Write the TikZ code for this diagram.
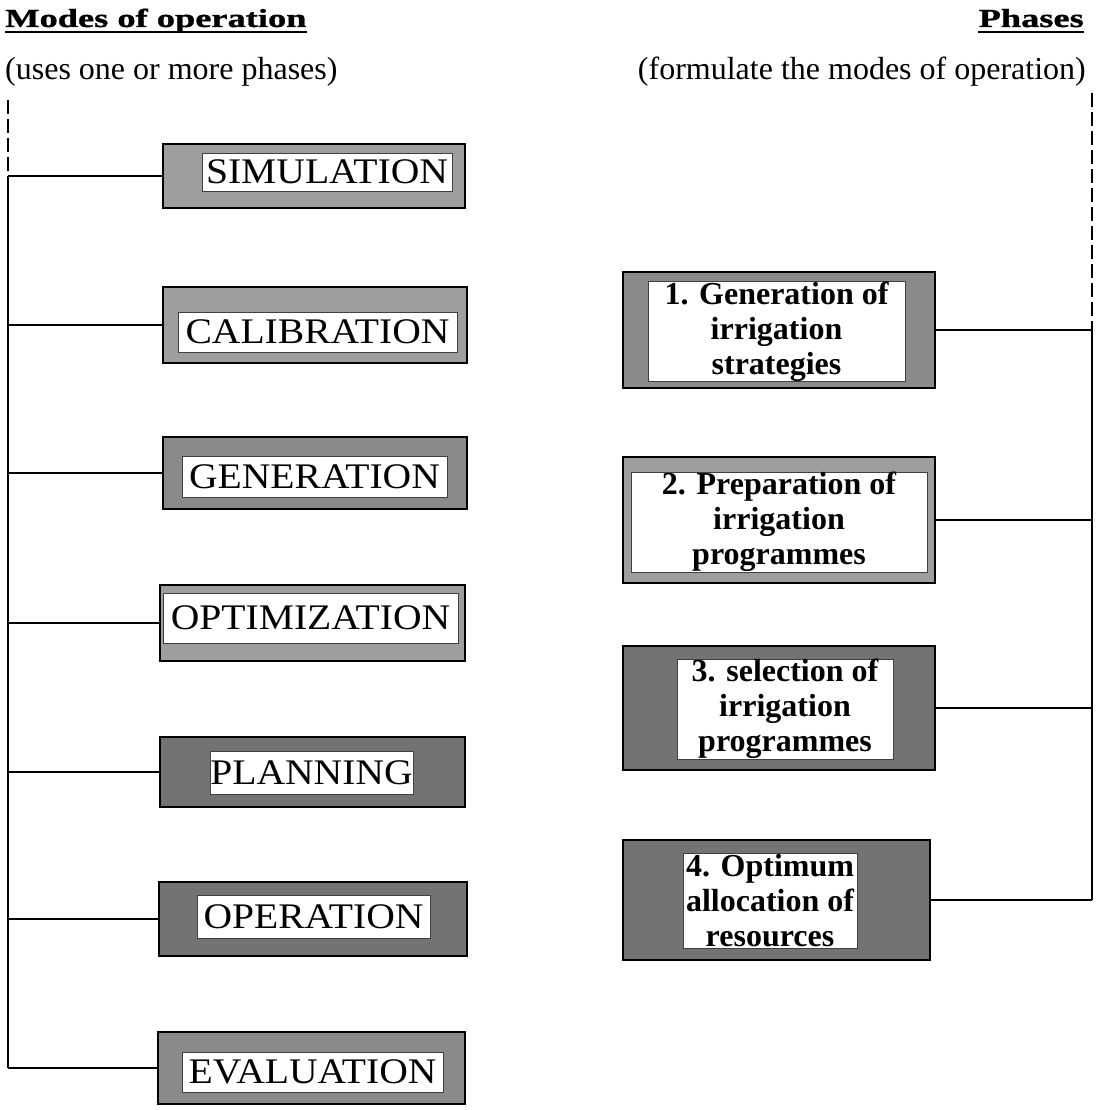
\documentclass[tikz,border=0pt]{standalone}
\usepackage{fontspec}
\setmainfont{Liberation Serif}
\newfontfamily\boxfont{Liberation Serif}[FakeStretch=1.1]
\newfontfamily\headfont{Liberation Serif}[FakeStretch=1.4, FakeBold=1.2]
\usetikzlibrary{shadows}

\definecolor{shLight}{gray}{0.62}
\definecolor{shMid}{gray}{0.54}
\definecolor{shDark}{gray}{0.45}

\tikzset{
  frame/.style={draw=black, line width=1.4pt, inner sep=0pt, rectangle,
    drop shadow={shadow xshift=1.3pt, shadow yshift=-1.3pt, fill=black, opacity=1}},
  label/.style={fill=white, draw=black!75, line width=0.6pt, inner sep=0pt, rectangle},
  modetext/.style={label, font=\boxfont\fontsize{36}{40}\selectfont},
  phasetext/.style={label, align=center, font=\fontsize{32}{35}\selectfont\bfseries},
  link/.style={draw=black, line width=2pt},
  spine/.style={draw=black, line width=2pt},
  brokenspine/.style={spine, dash pattern=on 14pt off 5pt},
  heading/.style={inner sep=0pt, font=\headfont\bfseries\fontsize{26}{30}\selectfont},
  headrule/.style={line width=2.6pt},
  note/.style={inner sep=0pt, font=\fontsize{32}{36}\selectfont}
}

\begin{document}
\begin{tikzpicture}[x=1pt, y=-1pt]
\useasboundingbox (0,0) rectangle (1098,1110);

% headings
\node[heading, anchor=base west] (hmodes) at (5,27) {Modes of operation};
\node[heading, anchor=base east] (hphases) at (1084,27) {Phases};
\draw[headrule] ([yshift=-5pt]hmodes.base west) -- ([yshift=-5pt]hmodes.base east);
\draw[headrule] ([yshift=-5pt]hphases.base west) -- ([yshift=-5pt]hphases.base east);
\node[note, anchor=base west] (nmodes) at (5,80) {(uses one or more phases)};
\node[note, anchor=base east] (nphases) at (1086,80) {(formulate the modes of operation)};

% modes of operation
\node[frame, fill=shLight, minimum width=302, minimum height=64] (sim) at (314,176) {};
\node[modetext, minimum width=250, minimum height=38] (simT) at (327,172) {SIMULATION};

\node[frame, fill=shLight, minimum width=304, minimum height=76] (cal) at (315,325) {};
\node[modetext, minimum width=279, minimum height=40] (calT) at (317.5,332) {CALIBRATION};

\node[frame, fill=shMid, minimum width=304, minimum height=72] (gen) at (315,473) {};
\node[modetext, minimum width=265, minimum height=41] (genT) at (314.5,476.5) {GENERATION};

\node[frame, fill=shLight, minimum width=305, minimum height=76] (opt) at (312.5,623) {};
\node[modetext, minimum width=295, minimum height=50] (optT) at (310.5,618) {OPTIMIZATION};

\node[frame, fill=shDark, minimum width=305, minimum height=70] (pla) at (312.5,772) {};
\node[modetext, minimum width=203, minimum height=43] (plaT) at (311.5,772.5) {PLANNING};

\node[frame, fill=shDark, minimum width=308, minimum height=74] (ope) at (313,919) {};
\node[modetext, minimum width=233, minimum height=43] (opeT) at (313.5,916.5) {OPERATION};

\node[frame, fill=shMid, minimum width=307, minimum height=72] (eva) at (311.5,1068) {};
\node[modetext, minimum width=261, minimum height=40] (evaT) at (312.5,1072) {EVALUATION};

% phases
\node[frame, fill=shMid, minimum width=312, minimum height=116] (ph1) at (779,330) {};
\node[phasetext, minimum width=257, minimum height=93] (ph1T) at (776.5,331.5)
  {1. Generation of\\irrigation\\strategies};

\node[frame, fill=shLight, minimum width=312, minimum height=126] (ph2) at (779,520) {};
\node[phasetext, minimum width=296, minimum height=100] (ph2T) at (779,522)
  {2. Preparation of\\irrigation\\programmes};

\node[frame, fill=shDark, minimum width=312, minimum height=124] (ph3) at (779,708) {};
\node[phasetext, minimum width=216, minimum height=98] (ph3T) at (785,709)
  {3. selection of\\irrigation\\programmes};

\node[frame, fill=shDark, minimum width=307, minimum height=120] (ph4) at (776.5,900) {};
\node[phasetext, minimum width=174, minimum height=95] (ph4T) at (770,900.5)
  {4. Optimum\\allocation of\\resources};

% left spine with its branches
\coordinate (ltop) at (8,100);
\path[brokenspine] (ltop) -- (sim.west -| ltop);
\path[spine] (sim.west -| ltop) -- (eva.west -| ltop);
\foreach \m in {sim,cal,gen,opt,pla,ope,eva}
  \path[link] (\m.west -| ltop) -- (\m.west);

% right spine with its branches
\coordinate (rtop) at (1092,93);
\path[brokenspine] (rtop) -- (ph1.east -| rtop);
\path[spine] (ph1.east -| rtop) -- (ph4.east -| rtop);
\foreach \p in {ph1,ph2,ph3,ph4}
  \path[link] (\p.east) -- (\p.east -| rtop);
\end{tikzpicture}
\end{document}
